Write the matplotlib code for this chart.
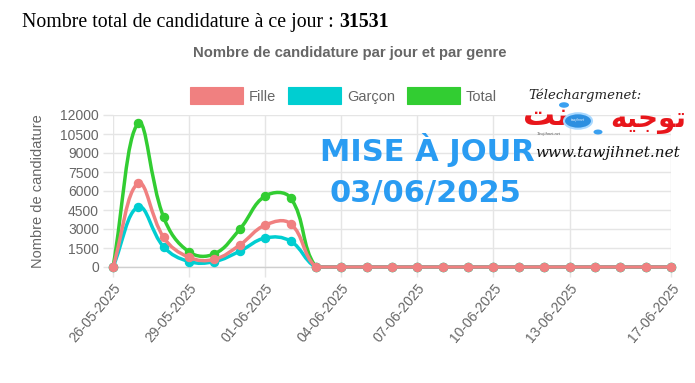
import numpy as np
import matplotlib
matplotlib.use("Agg")
import matplotlib.pyplot as plt
from matplotlib.path import Path
from matplotlib.patches import PathPatch, Rectangle, Circle

# ---------------- data ----------------
dates = ["26-05-2025", "27-05-2025", "28-05-2025", "29-05-2025", "30-05-2025",
         "31-05-2025", "01-06-2025", "02-06-2025", "03-06-2025", "04-06-2025",
         "05-06-2025", "06-06-2025", "07-06-2025", "08-06-2025", "09-06-2025",
         "10-06-2025", "11-06-2025", "12-06-2025", "13-06-2025", "14-06-2025",
         "15-06-2025", "16-06-2025", "17-06-2025"]
fille = [0, 6600, 2330, 761, 610, 1740, 3310, 3420, 0, 0, 0, 0, 0, 0, 0, 0, 0, 0, 0, 0, 0, 0, 0]
garcon = [0, 4740, 1580, 430, 430, 1250, 2290, 2040, 0, 0, 0, 0, 0, 0, 0, 0, 0, 0, 0, 0, 0, 0, 0]
total = [f + g for f, g in zip(fille, garcon)]
shown_ticks = ["26-05-2025", "29-05-2025", "01-06-2025", "04-06-2025", "07-06-2025",
               "10-06-2025", "13-06-2025", "17-06-2025"]
y_ticks = [0, 1500, 3000, 4500, 6000, 7500, 9000, 10500, 12000]
series_names = ["Fille", "Garçon", "Total"]
series_colors = ["#f08080", "#00ced1", "#32cd32"]
grand_total = sum(total)

W, H = 695, 383
fig = plt.figure(figsize=(W / 100, H / 100), dpi=100)
fig.patch.set_facecolor("white")

def fx(px):
    return px / W

def fy(py):
    return 1 - py / H

ax = fig.add_axes([fx(113), fy(267), fx(671) - fx(113), fy(115) - fy(267)])
ax.set_xlim(0, len(dates) - 1)
ax.set_ylim(0, 12000)

GRID = "#e5e5e5"
TXT = "#666666"
FONT = "Liberation Sans"

for s in ["top", "right", "left"]:
    ax.spines[s].set_visible(False)
ax.spines["bottom"].set_color("#cfcfcf")
ax.spines["bottom"].set_linewidth(1.0)

xpos = [dates.index(d) for d in shown_ticks]
ax.set_xticks(xpos)
ax.set_xticklabels(shown_ticks, rotation=50, ha="right", rotation_mode="anchor",
                   fontsize=10, color=TXT, family=FONT)
ax.set_yticks(y_ticks)
ax.set_yticklabels([str(v) for v in y_ticks], fontsize=10, color=TXT, family=FONT)
ax.tick_params(axis="both", length=7, color=GRID, width=1)
ax.tick_params(axis="x", pad=3)
ax.tick_params(axis="y", pad=3)
ax.grid(True, color=GRID, linewidth=1)
ax.set_axisbelow(True)
ax.set_ylabel("Nombre de candidature", fontsize=10.5, color=TXT, family=FONT, labelpad=11)

fig.canvas.draw()
renderer = fig.canvas.get_renderer()


def spline_path(xs, ys, t=0.4):
    pts = ax.transData.transform(np.column_stack([xs, ys]).astype(float))
    bb = ax.bbox
    n = len(pts)
    prevs, nexts = [], []
    for i in range(n):
        p0 = pts[i - 1] if i > 0 else pts[i]
        p1 = pts[i]
        p2 = pts[i + 1] if i < n - 1 else pts[i]
        d01 = np.hypot(*(p1 - p0))
        d12 = np.hypot(*(p2 - p1))
        tot = d01 + d12
        s01 = d01 / tot if tot else 0
        s12 = d12 / tot if tot else 0
        pc = p1 - t * s01 * (p2 - p0)
        nc = p1 + t * s12 * (p2 - p0)
        for c in (pc, nc):
            c[0] = min(max(c[0], bb.x0), bb.x1)
            c[1] = min(max(c[1], bb.y0), bb.y1)
        prevs.append(pc)
        nexts.append(nc)
    verts = [pts[0]]
    codes = [Path.MOVETO]
    for i in range(n - 1):
        verts += [nexts[i], prevs[i + 1], pts[i + 1]]
        codes += [Path.CURVE4] * 3
    inv = ax.transData.inverted()
    return Path(inv.transform(np.array(verts)), codes)


xs = np.arange(len(dates))
all_series = [fille, garcon, total]
for k, (vals, col) in enumerate(zip(all_series, series_colors)):
    z = 10 - k * 2
    patch = PathPatch(spline_path(xs, vals), facecolor="none", edgecolor=col,
                      linewidth=2.5, zorder=z, clip_on=False, capstyle="round",
                      joinstyle="round")
    ax.add_patch(patch)
    ax.plot(xs, vals, linestyle="none", marker="o", markersize=5.8, color=col,
            zorder=z + 1, clip_on=False)

# chart title
fig.text(fx(350), fy(57.5), "Nombre de candidature par jour et par genre",
         ha="center", va="baseline", fontsize=10.7, fontweight="bold", color=TXT, family=FONT)

# legend
leg_boxes = [190, 288, 407]
for name, col, bx in zip(series_names, series_colors, leg_boxes):
    fig.patches.append(Rectangle((fx(bx), fy(104)), fx(53), fy(87) - fy(104),
                                 transform=fig.transFigure, facecolor=col,
                                 edgecolor=col, linewidth=0.8))
    fig.text(fx(bx + 59), fy(101), name, ha="left", va="baseline", fontsize=10.5,
             color=TXT, family=FONT)

# header line
t1 = fig.text(fx(22), fy(27.3), "Nombre total de candidature à ce jour : ",
              ha="left", va="baseline", fontsize=14.3, color="black", family="Liberation Serif")
bbox1 = t1.get_window_extent(renderer=renderer)
fig.text(bbox1.x1 / W, fy(27.3), str(grand_total), ha="left", va="baseline",
         fontsize=14.3, fontweight="bold", color="black", family="Liberation Serif")

# overlay update stamp
BLUE = "#2a9cf2"
t_mise = fig.text(fx(427.5), fy(161), "MISE À JOUR", ha="center", va="baseline", fontsize=22,
                  fontweight="bold", color=BLUE, family="DejaVu Sans", zorder=20)
fig.text(fx(425), fy(202.3), "03/06/2025", ha="center", va="baseline", fontsize=22,
         fontweight="bold", color=BLUE, family="DejaVu Sans", zorder=20)

# watermark
fig.text(fx(528), fy(99), "Télechargmenet:", ha="left", va="baseline", fontsize=9.5,
         style="italic", color="#222222", family="DejaVu Serif", zorder=20)
RED = "#e8161b"
word_net = "\ufe96\ufee7"                          # نت
word_tawjih = "\ufeea\ufef4\ufe9f\ufeee\ufe97"     # توجيه
t_net = fig.text(fx(546), fy(125), word_net, ha="center", va="baseline", fontsize=23,
                 fontweight="bold", color=RED, family="DejaVu Sans", zorder=20)
fig.text(fx(686), fy(127), word_tawjih, ha="right", va="baseline", fontsize=20,
         fontweight="bold", color=RED, family="DejaVu Sans", zorder=20)
ball_x = 578
fig.patches.append(Circle((fx(ball_x), fy(121)), 14 / W, transform=fig.transFigure,
                          facecolor="#2d8fe0", edgecolor="#a8d8ff", linewidth=1.5, zorder=21))
fig.patches.append(Circle((fx(564), fy(105)), 5 / W, transform=fig.transFigure,
                          facecolor="#3aa0f0", edgecolor="none", zorder=21))
fig.patches.append(Circle((fx(598), fy(132)), 4.5 / W, transform=fig.transFigure,
                          facecolor="#3aa0f0", edgecolor="none", zorder=21))
fig.text(fx(ball_x), fy(120), "tawjihnet", ha="center", va="center", fontsize=2.2,
         color="white", style="italic", zorder=22)
t_www = fig.text(fx(535), fy(157), "www.tawjihnet.net", ha="left", va="baseline", fontsize=11,
                 style="italic", color="#111111", family="DejaVu Serif", zorder=20)

# small site caption, fitted into the gap below the Arabic word and above the url
bb_net = t_net.get_window_extent(renderer=renderer)
bb_www = t_www.get_window_extent(renderer=renderer)
bb_mise = t_mise.get_window_extent(renderer=renderer)
gap_top = bb_net.y0 - 0.4
gap_bot = bb_www.y1 + 0.4
avail = max(gap_top - gap_bot, 1.0)
small_size = min(3.2, avail / (1.25 * 100 / 72))
fig.text((bb_mise.x1 + 1.5) / W, gap_top / H, "Tawjihnet.net", ha="left", va="top",
         fontsize=small_size, color="#555555", family="Liberation Serif",
         style="italic", zorder=20)

fig.savefig("out.png", dpi=100, facecolor="white")
